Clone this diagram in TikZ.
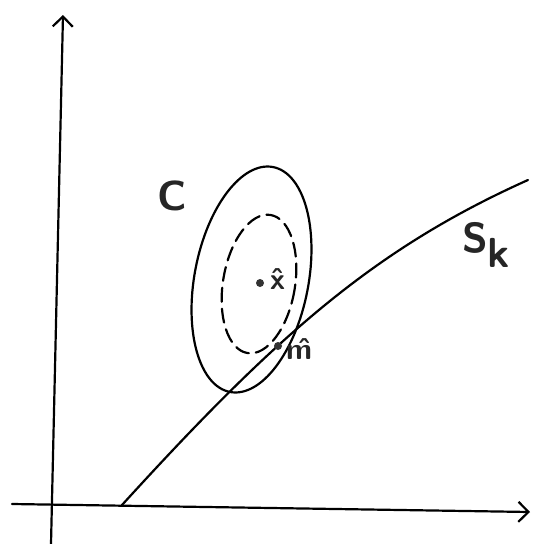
\documentclass[tikz,border=0pt]{standalone}
\usetikzlibrary{arrows.meta}
\begin{document}
\begin{tikzpicture}[x=1pt,y=-1pt,
  stroke/.style={line width=2.2pt,line cap=round,line join=round},
  barb/.style={-{Straight Barb[length=10pt,width=20pt,line width=2.2pt]}},
  lab/.style={font=\sffamily\bfseries\fontsize{42}{50}\selectfont,text=black!85,inner sep=0pt},
  small/.style={font=\sffamily\bfseries\fontsize{30}{36}\selectfont,text=black!85,inner sep=0pt},
  pt/.style={circle,fill=black!80,inner sep=0pt,minimum size=8pt}]
\useasboundingbox (0,0) rectangle (537,544);
% axes
\coordinate (ybot) at (51,544);
\coordinate (ytop) at (63,15);
\coordinate (xleft) at (12,504);
\coordinate (xright) at (530,512);
\draw[stroke,barb] (ybot) -- (ytop);
\draw[stroke,barb] (xleft) -- (xright);
% curve S_k
\coordinate (s0) at (122,505);
\coordinate (s1) at (528,180);
\draw[stroke] (s0) .. controls (276,336) and (374,249) .. (s1);
% ellipses
\draw[stroke] (251.5,279.5) ellipse[x radius=57,y radius=114.5,rotate=-10.8];
\draw[stroke,dash pattern=on 14pt off 7pt] (259,284) ellipse[x radius=36,y radius=70,rotate=-9.5];
% points
\node[pt] (xhat) at (260,283) {};
\node[pt] (mhat) at (278,346) {};
\node[small,anchor=west] (xl) at (270,279) {\^{x}};
\node[small,anchor=west] (ml) at (286,349) {\^{m}};
% labels
\node[lab] (C) at (172,196) {C};
\node[lab,anchor=base west] (Sk) at (462,252) {S\raisebox{-15pt}{k}};
\end{tikzpicture}
\end{document}
